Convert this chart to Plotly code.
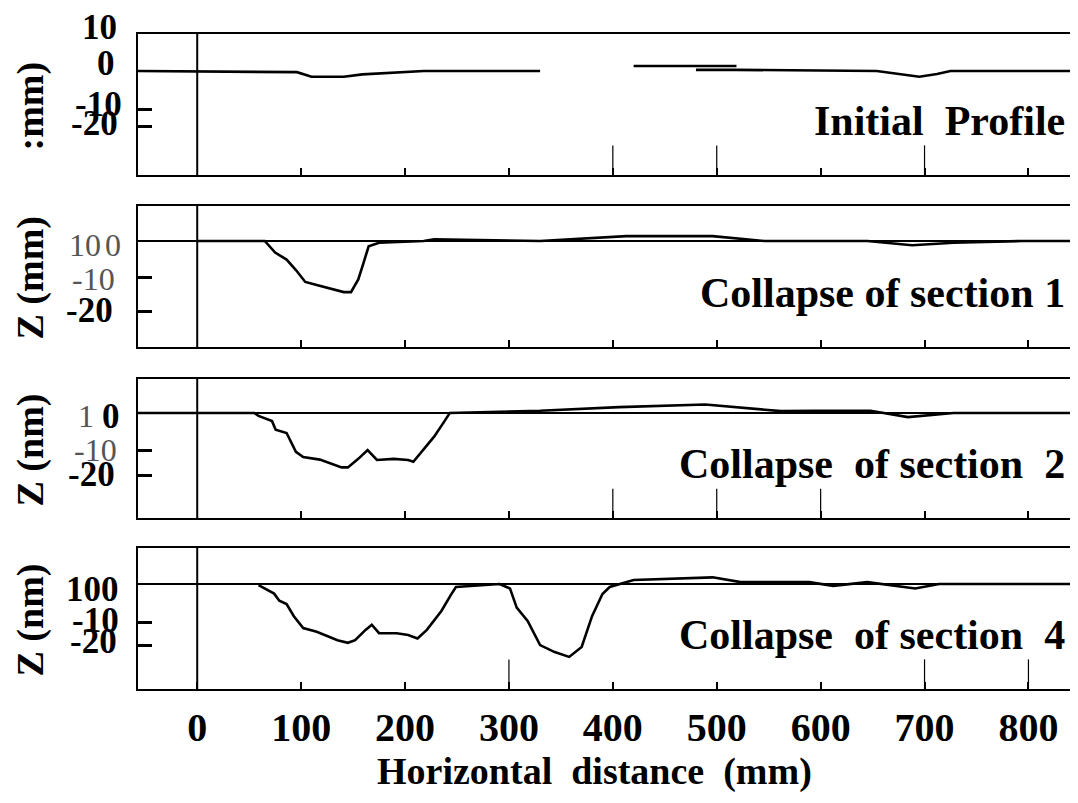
import plotly.graph_objects as go

# ---------------- data ----------------
x_initial = [-57, 96, 110, 141, 159, 190, 218, 330, None, 420, 519, None, 480, 519, 654, 675, 695, 712, 725, 848]
z_initial = [0, -0.3, -1.5, -1.5, -0.9, -0.5, 0, 0, None, 1.3, 1.3, None, 0.3, 0.3, 0, -0.8, -1.5, -0.8, 0, 0]

x_sec1 = [0, 10, 65, 75, 86, 95, 104, 115, 129, 141, 148, 155, 160, 165, 175, 218, 228, 330,
          413, 496, 546, 595, 645, 688, 728, 794, 848]
z_sec1 = [0, 0, 0, -3.3, -5.3, -8.3, -11.7, -12.6, -13.7, -14.6, -14.6, -11, -6.3, -1.5, -0.5, 0, 0.5, 0,
          1.4, 1.4, 0, 0, 0, -1.2, -0.5, 0, 0]

x_sec2 = [-57, 55, 59, 72, 75.5, 86, 95, 102, 118, 139, 145, 155, 164, 173, 189, 203, 208, 217, 228, 238,
          243, 330, 406, 489, 562, 595, 648, 684, 728, 794, 848]
z_sec2 = [0, 0, -0.8, -2.2, -4.5, -5.4, -10.5, -11.9, -12.6, -14.7, -14.7, -12.4, -10, -12.7, -12.4, -12.7,
          -13.2, -10, -6.4, -2.2, 0, 0.6, 1.6, 2.3, 0.5, 0.6, 0.6, -1.1, 0, 0, 0]

x_sec4 = [59, 74, 79, 86, 93, 102, 115, 135, 145, 152, 162, 168, 175, 192, 203, 212, 221, 235, 244, 249,
          291, 301, 307.5, 318, 330, 344, 358, 370, 380, 390, 397, 410, 420, 496, 523, 589, 612, 645, 691,
          714, 794, 848]
z_sec4 = [-0.3, -2.6, -4.5, -5.4, -8.7, -11.9, -12.9, -15.2, -15.9, -15.2, -12.4, -11, -13.3, -13.3, -13.8,
          -14.7, -12.4, -7.3, -3, -0.8, 0, -1.2, -6.4, -10, -16.5, -18.4, -19.7, -17, -8.7, -2.7, -0.8, 0.3,
          1.1, 1.8, 0.5, 0.5, -0.5, 0.5, -1.2, 0, 0, 0]

panel_titles = ["Initial  Profile", "Collapse of section 1", "Collapse  of section  2", "Collapse  of section  4"]
y_titles = [":mm)", "Z (mm)", "Z (nm)", "Z (nm)"]
x_tick_vals = [0, 100, 200, 300, 400, 500, 600, 700, 800]
x_tick_text = ["0", "100", "200", "300", "400", "500", "600", "700", "800"]
x_range = [-57, 840]
long_ticks = [[400, 500, 700], [], [400, 500, 600], [300, 700, 800]]
# positions of the scanned y tick marks (the scan's axis is not linear)
y_tick_marks = [[-10, -14.5], [-10.3, -20], [-10, -16.8], [-10.3, -16.5]]
# y tick labels as printed: (text, right-edge px, centre px, style)
y_tick_labels = [
    [("10", 119, 28, "b"), ("0", 117, 64, "b"), ("-10", 124, 104, "b"), ("-20", 120, 123, "b")],
    [("10", 103, 245, "t"), ("0", 123, 245, "t"), ("-10", 117, 279, "t"), ("-20", 115, 311, "b")],
    [("1", 96, 416, "t"), ("0", 122, 416, "b"), ("-10", 119, 450, "t"), ("-20", 117, 474, "b")],
    [("100", 121, 589, "b"), ("-10", 121, 620, "b"), ("-20", 119, 641, "b")],
]

# the page body has an 8 px margin: the figure is drawn 8 px in from the top-left;
# keep it small enough that the page never scrolls
OFF = 8
W, H = 1062, 787
def px(xp):
    return (xp - OFF) / W
def py(yp):
    return 1 - (yp - OFF) / H

# panel geometry in screen px: top, bottom, zero-line, px per mm
panels = [(34, 175, 71, 3.8), (206, 347, 241, 3.5), (379, 518, 413, 3.7), (548, 689, 584, 3.7)]
profiles = [(x_initial, z_initial), (x_sec1, z_sec1), (x_sec2, z_sec2), (x_sec4, z_sec4)]

SERIF = "Liberation Serif"
fig = go.Figure()
shapes, annotations = [], []
layout = dict(width=W, height=H, margin=dict(l=0, r=0, t=0, b=0), showlegend=False,
              plot_bgcolor="white", paper_bgcolor="white")

for i, ((top, bot, zero, s), (xs, zs)) in enumerate(zip(panels, profiles)):
    n = "" if i == 0 else str(i + 1)
    xa, ya = "x" + n, "y" + n
    fig.add_trace(go.Scatter(x=xs, y=zs, mode="lines", xaxis=xa, yaxis=ya,
                             line=dict(color="black", width=2.6), connectgaps=False,
                             hoverinfo="skip"))
    last = i == 3
    layout["xaxis" + n] = dict(
        domain=[px(138), 1], range=x_range, anchor=ya,
        showline=True, mirror=True, linecolor="black", linewidth=2,
        ticks="inside", ticklen=7, tickwidth=2, tickcolor="black",
        tickvals=x_tick_vals if last else x_tick_vals[1:],
        ticktext=["<b>%s</b>" % t for t in x_tick_text] if last else None,
        showticklabels=last, showgrid=False, zeroline=False,
        tickfont=dict(family=SERIF, size=40, color="black"), ticklabelstandoff=2)
    layout["yaxis" + n] = dict(
        domain=[py(bot), py(top)], range=[-(bot - zero) / s, (zero - top) / s], anchor=xa,
        showline=True, linecolor="black", linewidth=2, mirror=False,
        ticks="inside", ticklen=14, tickwidth=2.5, tickcolor="black",
        tickvals=y_tick_marks[i], showticklabels=False, showgrid=False, zeroline=False)
    # x = 0 reference line
    shapes.append(dict(type="line", xref=xa, yref=ya + " domain", x0=0, x1=0, y0=0, y1=1,
                       line=dict(color="black", width=2)))
    # z = 0 reference line (panels 2-4)
    if i > 0:
        shapes.append(dict(type="line", xref=xa + " domain", yref=ya, x0=0, x1=1, y0=0, y1=0,
                           line=dict(color="black", width=2)))
    for t in long_ticks[i]:
        shapes.append(dict(type="line", xref=xa, yref=ya + " domain", x0=t, x1=t, y0=0, y1=0.21,
                           line=dict(color="black", width=1.2)))
    # panel title
    annotations.append(dict(text="<b>" + panel_titles[i] + "</b>", xref="paper", yref="paper",
                            x=px(1067), y=py(bot - 54), xanchor="right", yanchor="middle",
                            showarrow=False, font=dict(family=SERIF, size=42, color="black")))
    # y axis title
    annotations.append(dict(text="<b>" + y_titles[i] + "</b>", xref="paper", yref="paper",
                            x=px(30), y=py((top + bot) / 2 + 2), textangle=-90,
                            xanchor="center", yanchor="middle", showarrow=False,
                            font=dict(family=SERIF, size=38, color="black")))
    for txt, rx, cy, st in y_tick_labels[i]:
        bold = st == "b"
        annotations.append(dict(text=("<b>%s</b>" % txt) if bold else txt, xref="paper", yref="paper",
                                x=px(rx), y=py(cy), xanchor="right", yanchor="middle",
                                showarrow=False,
                                font=dict(family=SERIF, size=35 if bold else 32,
                                          color="black" if bold else "#555555")))

annotations.append(dict(text="<b>Horizontal  distance  (mm)</b>", xref="paper", yref="paper",
                        x=px(594), y=py(771), xanchor="center", yanchor="middle", showarrow=False,
                        font=dict(family=SERIF, size=38, color="black")))

layout["shapes"] = shapes
layout["annotations"] = annotations
fig.update_layout(**layout)
fig.write_html("out.html")
